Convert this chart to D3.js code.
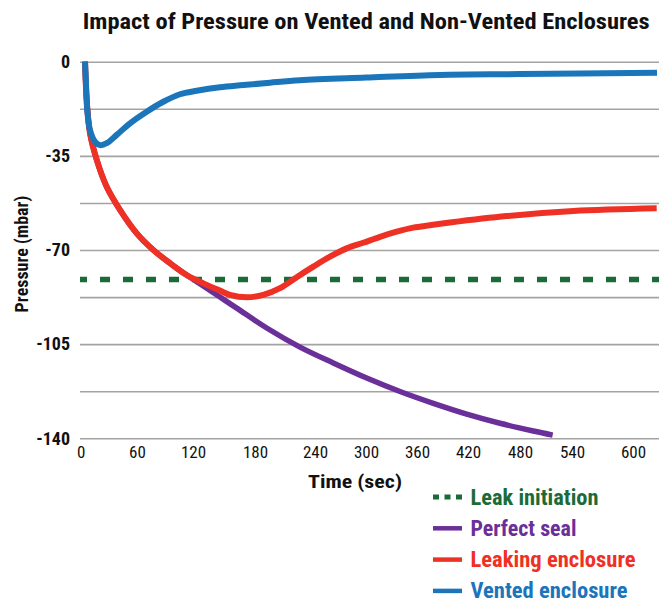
<!DOCTYPE html>
<html><head><meta charset="utf-8">
<script src="https://cdn.jsdelivr.net/npm/d3@7"></script>
<style>
body{margin:0;background:#fff;}
svg{display:block;}
text{font-family:"Liberation Sans Narrow","Roboto Condensed",Roboto,"Noto Sans",sans-serif;}
</style>
</head><body>
<svg id="chart" width="667" height="604"></svg>
<script>
// ---- data ----
const titleText = "Impact of Pressure on Vented and Non-Vented Enclosures";
const xTicks = [0, 60, 120, 180, 240, 300, 360, 420, 480, 540, 600];
const yTicks = [0, -35, -70, -105, -140];
const gridLevels = [0, -17.5, -35, -52.5, -70, -87.5, -105, -122.5, -140];
const leakLevel = -81;
const sealTime  = [4.6, 6.4, 9.9, 17.1, 27.7, 41.9, 59.7, 77.5, 95.4, 113.2, 130, 146.1, 162.3, 191.7, 225, 261.5, 300.8, 340, 379.2, 418.5, 456.9, 495.3, 517.7];
const sealValue = [0, -14.2, -26.6, -36.5, -46.5, -55.1, -63.8, -70, -74.9, -79.3, -83.4, -87.5, -91.6, -99.0, -106.1, -112.0, -117.6, -122.6, -127.0, -131.0, -134.4, -137.3, -138.8];
const leakTime  = [4.6, 6.4, 9.9, 17.1, 27.7, 41.9, 59.7, 77.5, 95.4, 113.2, 130, 146.1, 155.8, 172, 188.3, 205, 221.7, 238.3, 257.6, 277.3, 296.8, 316.5, 336.1, 355.6, 375.3, 398.8, 464.7, 541.3, 623.3];
const leakValue = [0, -14.2, -26.6, -36.5, -46.5, -55.1, -63.8, -70, -74.9, -79.3, -82.4, -85.1, -86.7, -87.6, -86.7, -84.2, -80.1, -76.2, -72.5, -69.4, -67.3, -65.1, -63.2, -61.7, -60.8, -59.8, -57.4, -55.5, -54.5];
const ventTime  = [4.6, 5.6, 7.0, 9.9, 15.2, 20.6, 27.7, 38.4, 52.6, 70.4, 88.2, 106, 123.6, 146.1, 168.7, 195, 225, 300, 387, 480, 623.6];
const ventValue = [0, -8, -18, -25.4, -29.7, -31, -30.3, -27.2, -22.9, -18.6, -14.9, -12.1, -10.8, -9.5, -8.7, -7.8, -6.9, -5.9, -4.9, -4.6, -4.1];
const seriesNames = ["Leak initiation", "Perfect seal", "Leaking enclosure", "Vented enclosure"];
const seriesColors = ["#1a6b38", "#6a2f99", "#ee3124", "#1b75bb"];

// ---- layout ----
const svg = d3.select("#chart");
const plotLeft = 80, plotRight = 659, plotTop = 61.7, plotBottom = 438.3;
// the printed time axis is slightly uneven; a piecewise linear scale follows its labels
const xLabelPos = [80.7, 137, 193, 255, 315, 366, 417, 468, 520, 572, 633];
const x = d3.scaleLinear().domain(xTicks).range(xLabelPos);
const y = d3.scaleLinear().domain([0, -140]).range([plotTop, plotBottom]);

// title
svg.append("text")
  .attr("x", 82.7).attr("y", 29.3)
  .attr("font-size", 22).attr("font-weight", "bold").attr("fill", "#111")
  .attr("textLength", 567).attr("lengthAdjust", "spacingAndGlyphs")
  .text(titleText);

// grid
const grid = svg.append("g").attr("transform", `translate(${plotLeft},0)`)
  .call(d3.axisLeft(y).tickValues(gridLevels).tickSize(-(plotRight - plotLeft)).tickFormat(""));
grid.select(".domain").remove();
grid.selectAll("line").attr("stroke", "#a3a3a3").attr("stroke-width", 1.6);

// y axis labels
const yAx = svg.append("g").attr("transform", `translate(${plotLeft},0)`)
  .call(d3.axisLeft(y).tickValues(yTicks).tickSize(0).tickPadding(10).tickFormat(d => String(d)));
yAx.select(".domain").remove();
yAx.selectAll("text").attr("font-size", 18).attr("font-weight", "bold").attr("fill", "#111")
  .attr("font-family", "Liberation Sans Narrow, Roboto Condensed, Roboto, sans-serif");

// x axis labels
const xAx = svg.append("g").attr("transform", `translate(0,${plotBottom})`)
  .call(d3.axisBottom(x).tickValues(xTicks).tickSize(0).tickPadding(8).tickFormat(d => String(d)));
xAx.select(".domain").remove();
xAx.selectAll("text").attr("font-size", 17).attr("fill", "#111")
  .attr("font-family", "Liberation Sans Narrow, Roboto Condensed, Roboto, sans-serif");

// axis titles
svg.append("text").attr("x", 308).attr("y", 488).attr("font-size", 19)
  .attr("textLength", 94).attr("lengthAdjust", "spacingAndGlyphs")
  .attr("font-weight", "bold").attr("fill", "#111").text("Time (sec)");
svg.append("text").attr("transform", "translate(28,254) rotate(-90)").attr("text-anchor", "middle")
  .attr("font-size", 18).attr("font-weight", "bold").attr("fill", "#111").text("Pressure (mbar)");

// series
const line = d3.line().x(d => x(d[0])).y(d => y(d[1])).curve(d3.curveCatmullRom.alpha(0.5));
const zipPts = (t, v) => t.map((d, i) => [d, v[i]]);

svg.append("line")
  .attr("x1", plotLeft).attr("x2", plotRight).attr("y1", y(leakLevel)).attr("y2", y(leakLevel))
  .attr("stroke", seriesColors[0]).attr("stroke-width", 5.5).attr("stroke-dasharray", "10,13")
  .attr("stroke-dashoffset", -20);

svg.append("path").datum(zipPts(sealTime, sealValue)).attr("d", line)
  .attr("fill", "none").attr("stroke", seriesColors[1]).attr("stroke-width", 5.5);
svg.append("path").datum(zipPts(leakTime, leakValue)).attr("d", line)
  .attr("fill", "none").attr("stroke", seriesColors[2]).attr("stroke-width", 6);
svg.append("path").datum(zipPts(ventTime, ventValue)).attr("d", line)
  .attr("fill", "none").attr("stroke", seriesColors[3]).attr("stroke-width", 6);

// legend
const legendY0 = 497, legendStep = 31.3;
const legendWidths = [128, 106, 165, 157];
const lg = svg.append("g");
seriesNames.forEach((name, i) => {
  const yy = legendY0 + i * legendStep;
  lg.append("line").attr("x1", 433).attr("x2", 462).attr("y1", yy).attr("y2", yy)
    .attr("stroke", seriesColors[i]).attr("stroke-width", i === 0 ? 5 : 4.5)
    .attr("stroke-dasharray", i === 0 ? "6,5.5" : null);
  lg.append("text").attr("x", 470.5).attr("y", yy).attr("dy", "0.35em")
    .attr("font-size", 21.5).attr("font-weight", "bold").attr("fill", seriesColors[i])
    .attr("textLength", legendWidths[i]).attr("lengthAdjust", "spacingAndGlyphs")
    .text(name);
});
</script>
</body></html>
